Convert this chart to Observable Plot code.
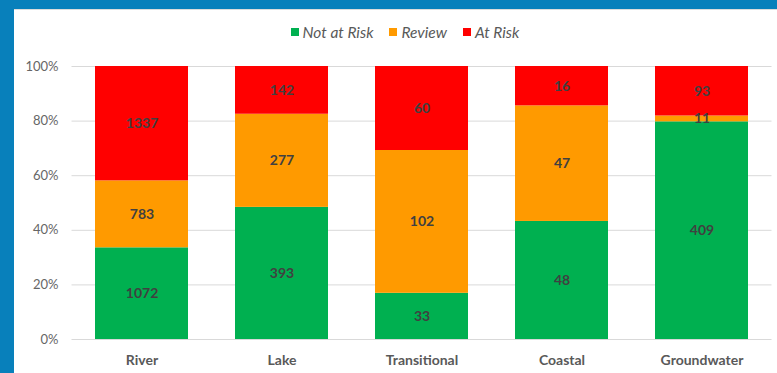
<!DOCTYPE html>
<html>
<head>
<meta charset="utf-8">
<script src="https://cdn.jsdelivr.net/npm/d3@7"></script>
<script src="https://cdn.jsdelivr.net/npm/@observablehq/plot@0.6"></script>
<style>
  html, body { margin: 0; padding: 0; }
  body {
    width: 777px; height: 373px; overflow: hidden;
    background: #0880bb; position: relative;
    font-family: Lato, "Open Sans", sans-serif;
  }
  #panel {
    position: absolute; left: 14px; top: 9px; width: 763px; height: 364px;
    background: #fff; border-top: 1px solid #dcdcdc; box-sizing: border-box;
  }
  #legend {
    position: absolute; left: 0; top: 14px; width: 763px; padding-left: 19px;
    box-sizing: border-box; display: flex; justify-content: center;
    font-style: italic; font-size: 15.5px; color: #595959; line-height: 16px;
  }
  #legend .item { display: flex; align-items: center; margin: 0 8px; }
  #legend .sw { width: 8px; height: 8px; margin-right: 4px; }
  #chart { position: absolute; left: 0; top: 39px; }
</style>
</head>
<body>
<div id="panel">
  <div id="legend"></div>
  <div id="chart"></div>
</div>
<script>
// Water body categories and risk status counts
const categories = ["River", "Lake", "Transitional", "Coastal", "Groundwater"];
const statuses = ["Not at Risk", "Review", "At Risk"];
const statusColors = ["#00b050", "#ff9a00", "#ff0000"];
const notAtRisk = [1072, 393, 33, 48, 409];
const review = [783, 277, 102, 47, 11];
const atRisk = [1337, 142, 60, 16, 93];
const yTicks = [0, 0.2, 0.4, 0.6, 0.8, 1];

const series = [notAtRisk, review, atRisk];
const data = [];
statuses.forEach((s, si) => {
  categories.forEach((c, ci) => {
    data.push({category: c, status: s, value: series[si][ci]});
  });
});

const stackOpts = {x: "category", y: "value", z: "status", offset: "normalize", order: statuses};

const chart = Plot.plot({
  width: 763,
  height: 324,
  marginTop: 17,
  marginBottom: 34,
  marginLeft: 57.5,
  marginRight: 5.5,
  style: {fontFamily: "Lato, 'Open Sans', sans-serif", background: "transparent"},
  x: {domain: categories, paddingInner: 0.336, paddingOuter: 0.168, label: null},
  y: {domain: [0, 1], label: null},
  color: {domain: statuses, range: statusColors},
  marks: [
    Plot.ruleY(yTicks, {stroke: "#d9d9d9", strokeWidth: 1}),
    Plot.barY(data, Plot.stackY({...stackOpts, fill: "status"})),
    Plot.text(data, Plot.stackY({...stackOpts, text: d => String(d.value), fill: "#404040",
      fontSize: 14, fontWeight: "bold"})),
    Plot.axisY({ticks: yTicks, tickFormat: d3.format(".0%"), tickSize: 0, tickPadding: 13.5,
      fontSize: 13, color: "#666666"}),
    Plot.axisX({tickSize: 0, tickPadding: 16, fontSize: 14, fontWeight: "bold", color: "#595959"})
  ]
});
document.getElementById("chart").appendChild(chart);

// Legend built from the chart's color scale
const color = chart.scale("color");
const legend = document.getElementById("legend");
statuses.forEach(s => {
  const item = document.createElement("div");
  item.className = "item";
  const sw = document.createElement("span");
  sw.className = "sw";
  sw.style.background = color.apply(s);
  const label = document.createElement("span");
  label.textContent = s;
  item.appendChild(sw);
  item.appendChild(label);
  legend.appendChild(item);
});
</script>
</body>
</html>
